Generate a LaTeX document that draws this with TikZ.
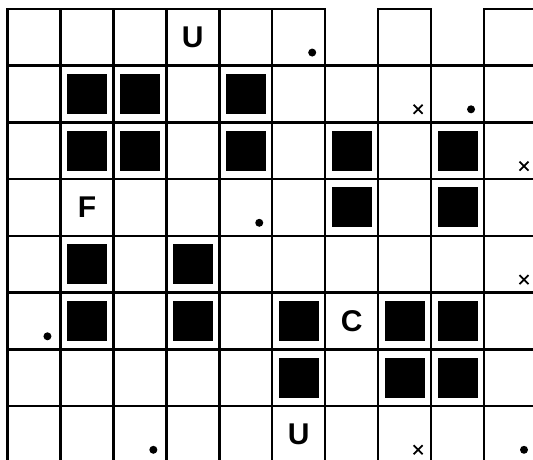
\documentclass[tikz,border=0pt]{standalone}
\usepackage{fontspec}
\setmainfont{Liberation Sans}
\begin{document}
\begin{tikzpicture}[x=52.95pt,y=56.75pt,
  wall/.style={line width=2.4pt,line cap=rect},
  block/.style={fill=black,draw=none,minimum width=40pt,minimum height=40pt,inner sep=0pt},
  letter/.style={font=\fontsize{30}{30}\selectfont\bfseries,inner sep=0pt},
  dotmark/.style={circle,fill=black,draw=none,minimum size=8pt,inner sep=0pt},
  crossmark/.style={line width=1.8pt}]
\useasboundingbox (-7.5pt,8.8pt) rectangle (525.5pt,-451.2pt);
\clip (-7.5pt,8.8pt) rectangle (525.5pt,-451.2pt);
% grid walls
\foreach \c in {0,...,10} \draw[wall] (\c,0) -- (\c,-8.2);
\foreach \r in {1,...,8} \draw[wall] (0,-\r) -- (10.2,-\r);
\draw[wall] (0,0) -- (6,0);
\draw[wall] (7,0) -- (8,0);
\draw[wall] (9,0) -- (10.2,0);
% blocks
\foreach \c/\r [count=\i] in {1/1,2/1,4/1,1/2,2/2,4/2,6/2,8/2,6/3,8/3,1/4,3/4,1/5,3/5,5/5,7/5,8/5,5/6,7/6,8/6}
  \node[block] (b\i) at (\c+0.5,-\r-0.5) {};
% letters
\node[letter] (u1) at (3.5,-0.5) {U};
\node[letter] (f1) at (1.5,-3.5) {F};
\node[letter] (c1) at (6.5,-5.5) {C};
\node[letter] (u2) at (5.5,-7.5) {U};
% dots
\foreach \c/\r [count=\i] in {5/0,8/1,4/3,0/5,2/7,9/7}
  \node[dotmark] (d\i) at ([shift={(-13pt,13pt)}]\c+1,-\r-1) {};
% crosses
\foreach \c/\r [count=\i] in {7/1,9/2,9/4,7/7} {
  \coordinate (x\i) at ([shift={(-13pt,13pt)}]\c+1,-\r-1);
  \draw[crossmark] ([shift={(-4.5pt,-4.5pt)}]x\i) -- ([shift={(4.5pt,4.5pt)}]x\i);
  \draw[crossmark] ([shift={(-4.5pt,4.5pt)}]x\i) -- ([shift={(4.5pt,-4.5pt)}]x\i);
}
\end{tikzpicture}
\end{document}
